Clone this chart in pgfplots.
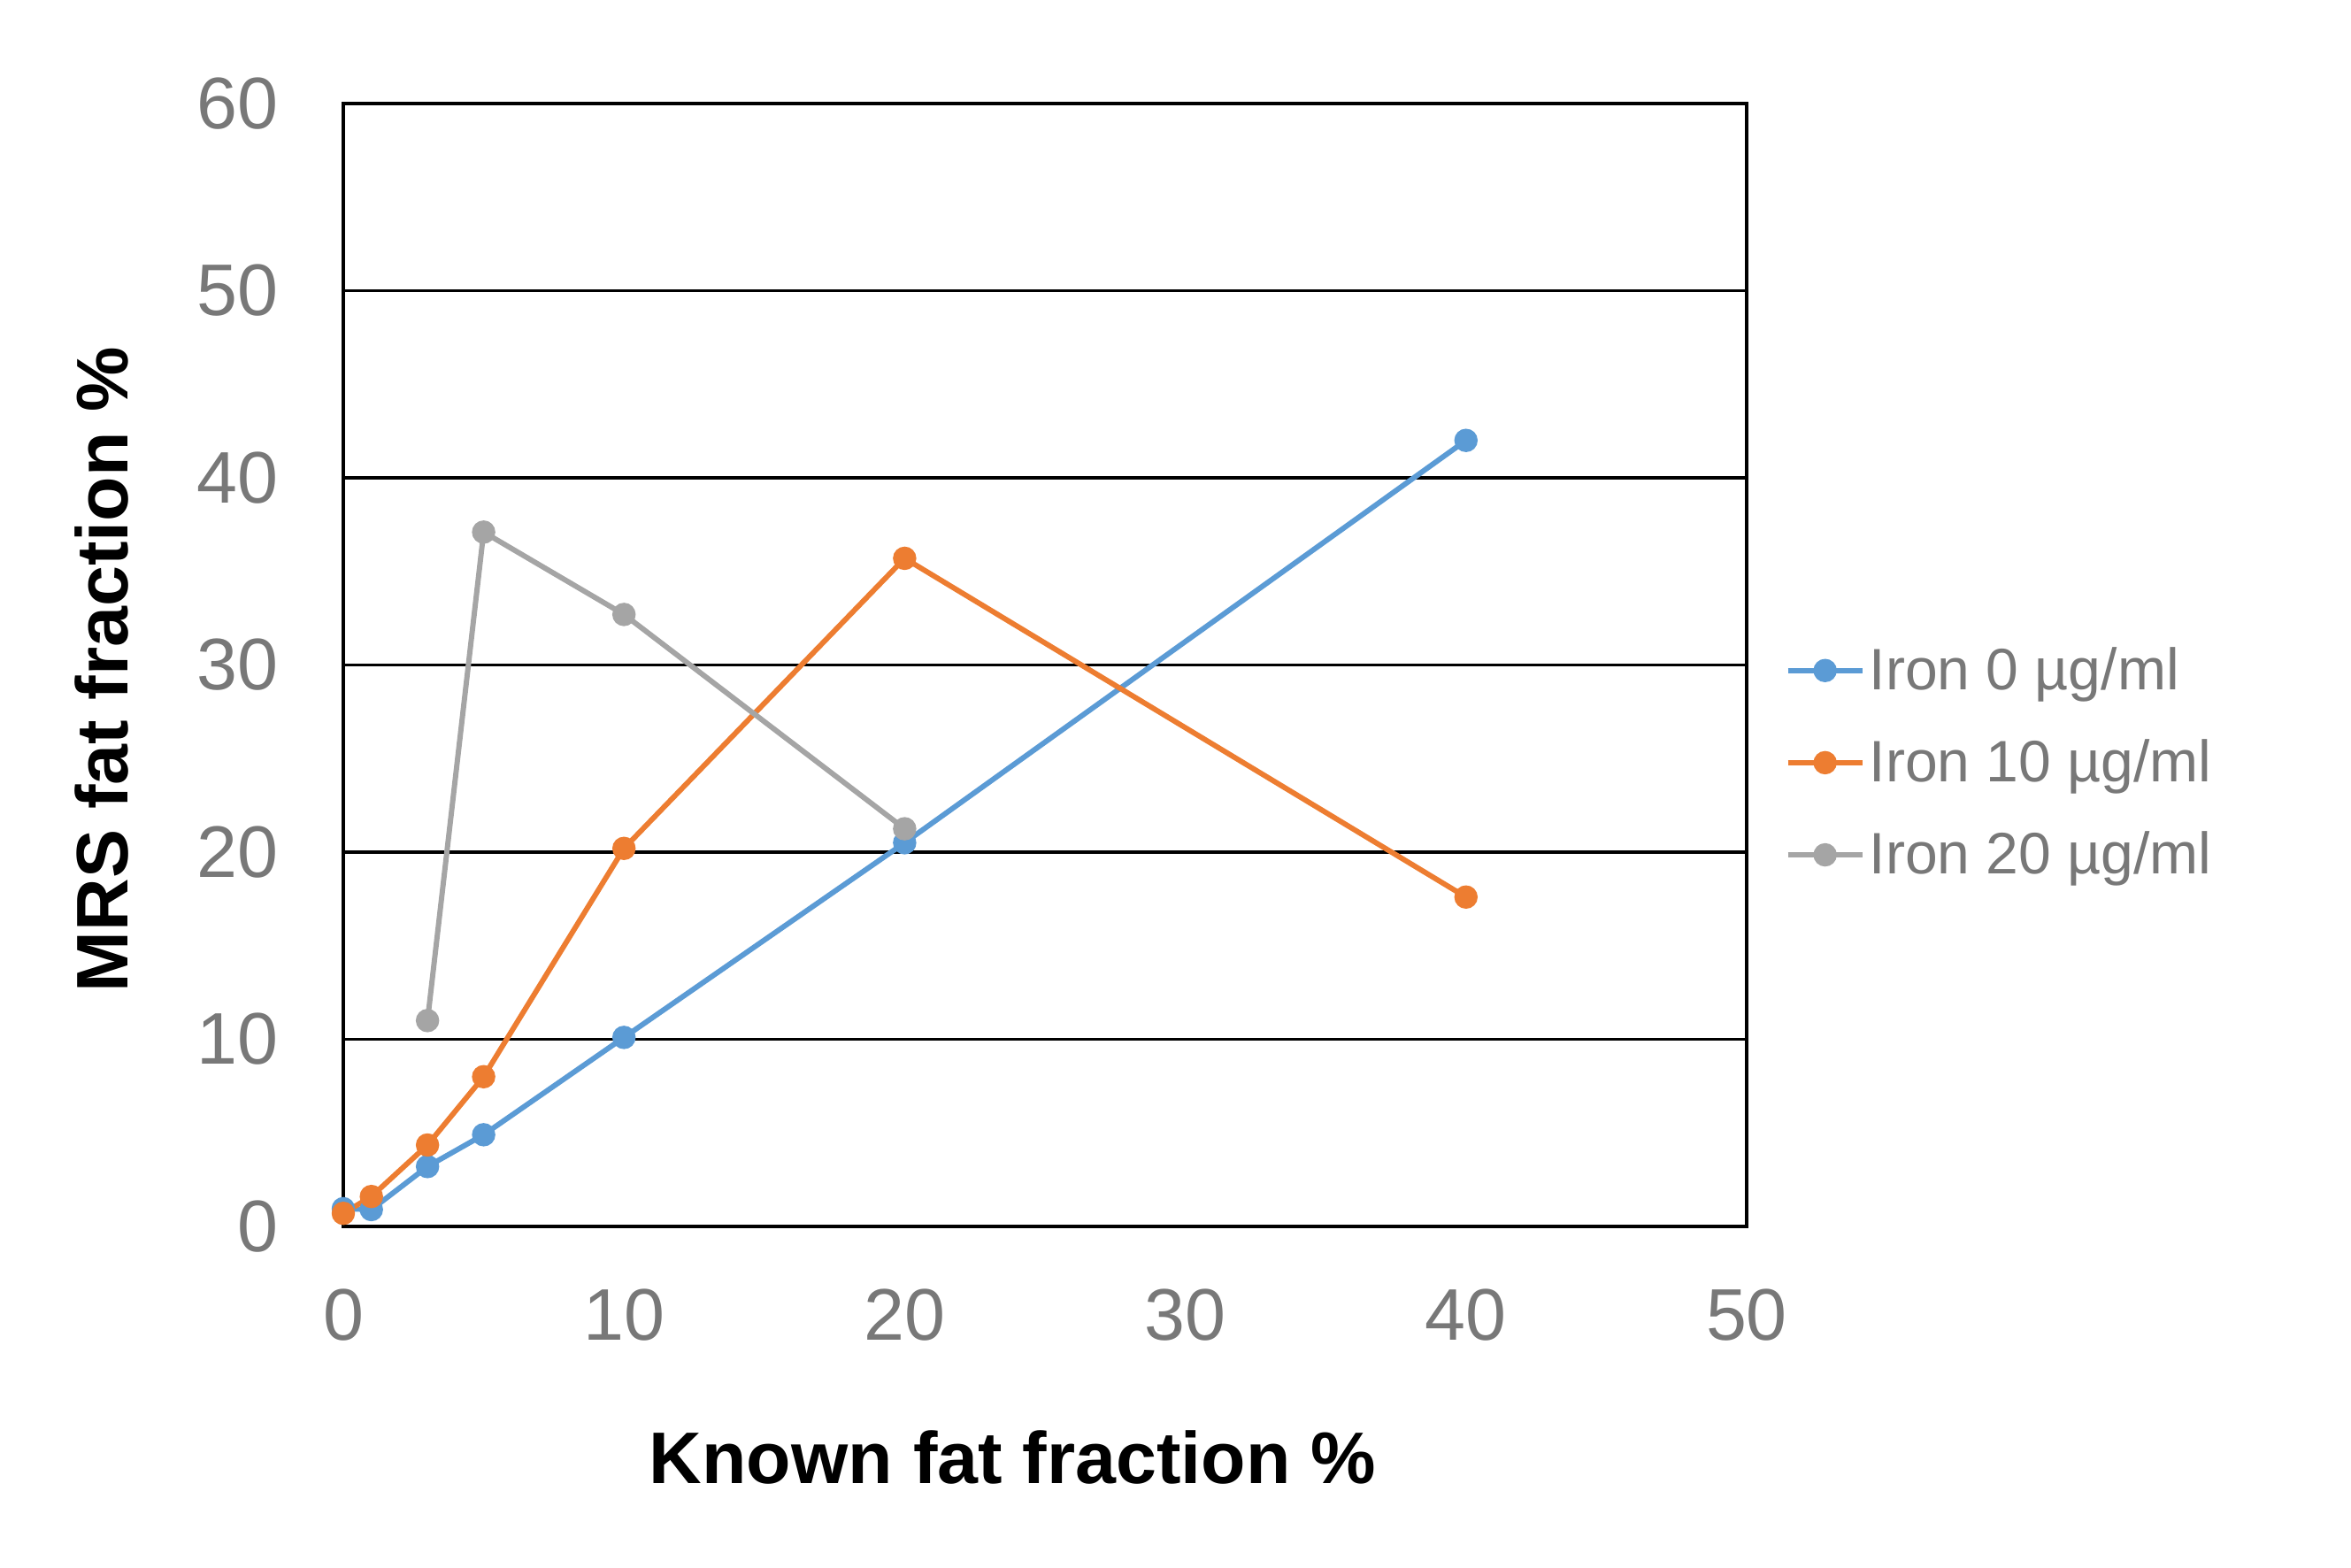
\documentclass[border=0pt]{standalone}
\usepackage{pgfplots}
\pgfplotsset{compat=1.18}
\usepackage{fontspec}
\setmainfont{Liberation Sans}
\definecolor{sblue}{RGB}{91,155,213}
\definecolor{sorange}{RGB}{237,125,49}
\definecolor{sgray}{RGB}{165,165,165}
\definecolor{tgray}{RGB}{120,120,120}
\begin{document}
\begin{tikzpicture}
\path[use as bounding box] (0,0) rectangle (265.7mm,177.2mm);
\begin{axis}[
  at={(38.8mm,38.6mm)}, anchor=south west,
  scale only axis,
  width=158.6mm, height=126.9mm,
  xmin=0, xmax=50, ymin=0, ymax=60,
  xtick={0,10,...,50}, ytick={0,10,...,60},
  major tick length=0pt,
  axis line style={black, line width=0.95pt},
  ymajorgrids,
  grid style={black, line width=0.95pt},
  clip=false,
  /pgf/number format/assume math mode=true,
  tick label style={font=\fontsize{23.5}{28}\selectfont, text=tgray, inner sep=0pt},
  xticklabel style={anchor=center, yshift=-10mm},
  yticklabel style={anchor=east, xshift=-7.3mm},
  xlabel={\textbf{Known fat fraction \%}},
  ylabel={\textbf{MRS fat fraction \%}},
  label style={font=\fontsize{23.5}{28}\selectfont, text=black},
  xlabel style={at={(axis description cs:0.477,0)}, anchor=center, yshift=-26.1mm},
  ylabel style={at={(axis description cs:0,0.496)}, anchor=center, rotate=0, yshift=27.3mm},
  legend style={at={(axis description cs:1,0.413)}, anchor=west, xshift=4.3mm,
    draw=none, fill=none, inner sep=0pt, row sep=5.1mm,
    font=\fontsize{18.8}{23}\selectfont, text=tgray,
    nodes={inner sep=0pt}},
  legend cell align=left,
  legend image code/.code={\draw[mark repeat=2,mark phase=2] plot coordinates {(0cm,0cm) (0.42cm,0cm) (0.84cm,0cm)}; \path (0.89cm,0cm);},
  every axis plot/.append style={line width=1.7pt, mark=*, mark size=2.9pt, mark options={solid}},
]
\addplot[color=sblue] coordinates {(0,0.95) (1,0.9) (3,3.2) (5,4.9) (10,10.1) (20,20.5) (40,42.0)};
\addlegendentry{Iron 0 µg/ml}
\addplot[color=sorange] coordinates {(0,0.7) (1,1.6) (3,4.35) (5,8.0) (10,20.2) (20,35.7) (40,17.6)};
\addlegendentry{Iron 10 µg/ml}
\addplot[color=sgray] coordinates {(3,11.0) (5,37.1) (10,32.7) (20,21.25)};
\addlegendentry{Iron 20 µg/ml}
\end{axis}
\end{tikzpicture}
\end{document}
